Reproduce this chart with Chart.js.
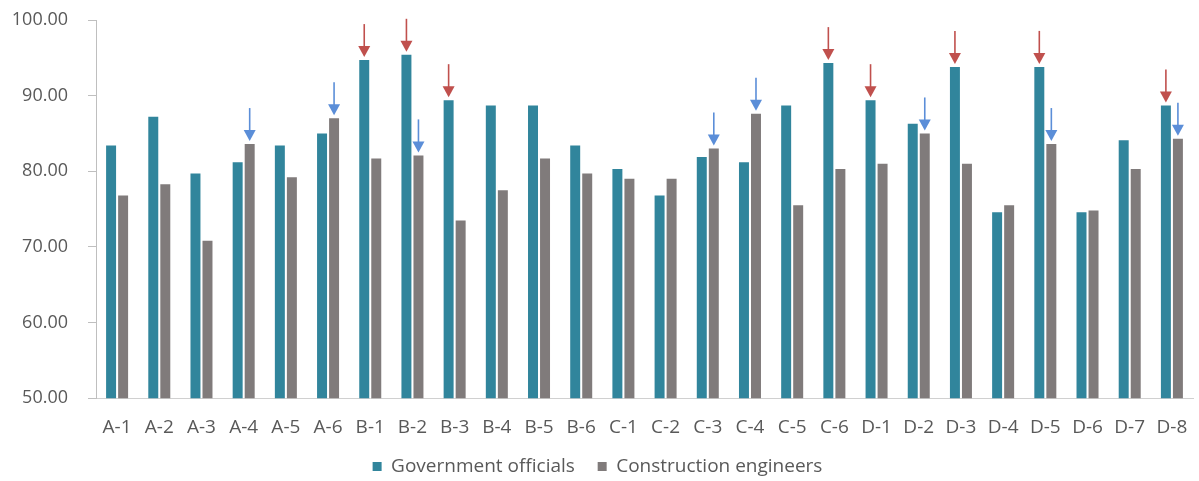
<!DOCTYPE html>
<html>
<head>
<meta charset="utf-8">
<script src="https://cdn.jsdelivr.net/npm/chart.js@4/dist/chart.umd.min.js"></script>
<style>
html,body{margin:0;padding:0;background:#fff;}
#wrap{width:1199px;height:481px;}
</style>
</head>
<body>
<div id="wrap"><canvas id="c" width="1199" height="481"></canvas></div>
<script>
const categories = ['A-1','A-2','A-3','A-4','A-5','A-6','B-1','B-2','B-3','B-4','B-5','B-6','C-1','C-2','C-3','C-4','C-5','C-6','D-1','D-2','D-3','D-4','D-5','D-6','D-7','D-8'];
const governmentOfficials = [83.4,87.2,79.7,81.2,83.4,85.0,94.7,95.4,89.4,88.7,88.7,83.4,80.3,76.8,81.9,81.2,88.7,94.3,89.4,86.3,93.8,74.6,93.8,74.6,84.1,88.7];
const constructionEngineers = [76.8,78.3,70.8,83.6,79.2,87.0,81.7,82.1,73.5,77.5,81.7,79.7,79.0,79.0,83.0,87.6,75.5,80.3,81.0,85.0,81.0,75.5,83.6,74.8,80.3,84.3];
const yTicks = [50,60,70,80,90,100];
const redArrowCats = ['B-1','B-2','B-3','C-6','D-1','D-3','D-5','D-8'];   // over Government officials bars
const blueArrowCats = ['A-4','A-6','B-2','C-3','C-4','D-2','D-5','D-8'];  // over Construction engineers bars

const FONT = "'Open Sans', 'Noto Sans', sans-serif";

const arrowPlugin = {
  id: 'arrows',
  afterDatasetsDraw(chart) {
    const ctx = chart.ctx;
    const draw = (dsIndex, cats, color) => {
      const meta = chart.getDatasetMeta(dsIndex);
      cats.forEach(c => {
        const i = categories.indexOf(c);
        const el = meta.data[i];
        if (!el) return;
        const x = el.x, top = el.y;
        const tip = top - 3, headH = 11, headW = 12, len = 33;
        ctx.save();
        ctx.strokeStyle = color;
        ctx.fillStyle = color;
        ctx.lineWidth = 1.6;
        ctx.beginPath();
        ctx.moveTo(x, tip - len);
        ctx.lineTo(x, tip - headH + 1);
        ctx.stroke();
        ctx.beginPath();
        ctx.moveTo(x - headW/2, tip - headH);
        ctx.lineTo(x + headW/2, tip - headH);
        ctx.lineTo(x, tip);
        ctx.closePath();
        ctx.fill();
        ctx.restore();
      });
    };
    draw(0, redArrowCats, '#c0504d');
    draw(1, blueArrowCats, '#5b8ed8');
  }
};

new Chart(document.getElementById('c'), {
  type: 'bar',
  data: {
    labels: categories,
    datasets: [
      { label: 'Government officials', data: governmentOfficials, backgroundColor: '#31859c', borderWidth: 0 },
      { label: 'Construction engineers', data: constructionEngineers, backgroundColor: '#807b7b', borderWidth: 0 }
    ]
  },
  options: {
    responsive: false,
    animation: false,
    devicePixelRatio: 1,
    layout: { padding: { top: 20, right: 6, left: 2, bottom: -5 } },
    datasets: { bar: { categoryPercentage: 0.57, barPercentage: 0.83 } },
    plugins: {
      legend: {
        position: 'bottom',
        labels: {
          font: { family: FONT, size: 19 },
          color: '#595959',
          boxWidth: 9, boxHeight: 9,
          padding: 8,
          generateLabels: (chart) => {
            const items = Chart.defaults.plugins.legend.labels.generateLabels(chart);
            items.forEach((it, idx) => { if (idx === 0) it.text = it.text + '   '; });
            return items;
          }
        }
      },
      tooltip: { enabled: false }
    },
    scales: {
      x: {
        grid: { display: false },
        border: { color: '#d0d0d0', width: 1 },
        ticks: { font: { family: FONT, size: 19 }, color: '#595959', padding: 10, maxRotation: 0, autoSkip: false }
      },
      y: {
        min: 50, max: 100,
        afterBuildTicks: (axis) => { axis.ticks = yTicks.map(v => ({ value: v })); },
        afterFit: (axis) => { axis.width = 94; axis.paddingTop = 0; axis.paddingBottom = 0; },
        grid: { drawOnChartArea: false, tickLength: 8, color: '#bfbfbf' },
        border: { color: '#bfbfbf', width: 1 },
        ticks: { font: { family: FONT, size: 18 }, color: '#595959', padding: 20, callback: v => Number(v).toFixed(2) }
      }
    }
  },
  plugins: [arrowPlugin]
});
</script>
</body>
</html>
